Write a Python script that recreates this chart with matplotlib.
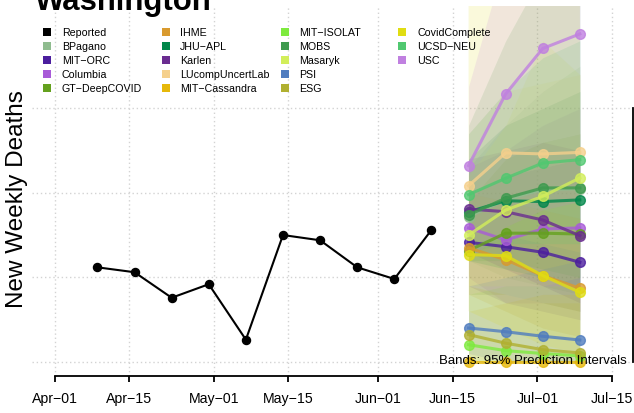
import matplotlib
matplotlib.use("Agg")
import matplotlib.pyplot as plt
import matplotlib.dates as mdates
import numpy as np
import pandas as pd
from matplotlib.patches import Rectangle

plt.rcParams['font.family'] = ['Liberation Sans', 'DejaVu Sans']

# ---------------- data ----------------
title = "Washington"
y_label = "New Weekly Deaths"
band_note = "Bands: 95% Prediction Intervals"

tick_dates = ["2020-04-01", "2020-04-15", "2020-05-01", "2020-05-15",
              "2020-06-01", "2020-06-15", "2020-07-01", "2020-07-15"]
tick_labels = ["Apr\u221201", "Apr\u221215", "May\u221201", "May\u221215",
               "Jun\u221201", "Jun\u221215", "Jul\u221201", "Jul\u221215"]

reported_dates = ["2020-04-09", "2020-04-16", "2020-04-23", "2020-04-30", "2020-05-07",
                  "2020-05-14", "2020-05-21", "2020-05-28", "2020-06-04", "2020-06-11"]
reported_values = [56.0, 53.1, 38.0, 46.0, 13.2, 75.1, 72.0, 56.0, 49.1, 78.1]

forecast_dates = ["2020-06-18", "2020-06-25", "2020-07-02", "2020-07-09"]

model_names = ["BPagano", "MIT\u2212ORC", "Columbia", "GT\u2212DeepCOVID", "IHME",
               "JHU\u2212APL", "Karlen", "LUcompUncertLab", "MIT\u2212Cassandra",
               "MIT\u2212ISOLAT", "MOBS", "Masaryk", "PSI", "ESG",
               "CovidComplete", "UCSD\u2212NEU", "USC"]
model_colors = ["#8FBC8F", "#4B1E9E", "#A85BD8", "#64A11E", "#D99A2E",
                "#00874A", "#6A2C90", "#F5D08C", "#E6B80A",
                "#7EEA3E", "#3E9A4E", "#D2EE5A", "#4F7CBF", "#B0B030",
                "#E0DD12", "#50C870", "#C080E0"]

# point forecasts (medians)
bpagano_mid = [86.0, 96.0, 102.0, 102.5]
mit_orc_mid = [70.8, 68.2, 64.9, 59.0]
columbia_mid = [79.3, 72.2, 78.7, 79.3]
gt_deepcovid_mid = [65.9, 76.2, 76.2, 75.7]
ihme_mid = [67.5, 60.5, 51.1, 43.6]
jhu_apl_mid = [88.8, 95.4, 94.9, 95.9]
karlen_mid = [90.5, 88.9, 84.0, 74.7]
lucomp_mid = [104.3, 123.7, 123.1, 124.0]
mit_cassandra_mid = [0.2, 0.2, 0.2, 0.2]
mit_isolat_mid = [10.2, 6.7, 5.0, 3.6]
mobs_mid = [87.0, 96.9, 103.0, 103.0]
masaryk_mid = [75.1, 89.9, 98.0, 108.9]
psi_mid = [20.1, 17.9, 15.2, 13.0]
esg_mid = [16.2, 11.1, 7.3, 5.3]
covidcomplete_mid = [63.5, 62.9, 51.1, 41.2]
ucsd_neu_mid = [99.0, 108.7, 117.7, 119.7]
usc_mid = [116.2, 158.6, 185.5, 194.1]

# 95% prediction interval bounds
bpagano_lo = [60, 50, 45, 40];   bpagano_hi = [115, 140, 160, 175]
mit_orc_lo = [45, 35, 30, 25];   mit_orc_hi = [100, 110, 115, 120]
columbia_lo = [50, 35, 35, 30];  columbia_hi = [115, 125, 140, 150]
gt_deepcovid_lo = [40, 40, 35, 30]; gt_deepcovid_hi = [95, 120, 130, 135]
ihme_lo = [40, 30, 20, 15];      ihme_hi = [100, 95, 90, 85]
jhu_apl_lo = [60, 55, 50, 45];   jhu_apl_hi = [120, 140, 150, 160]
karlen_lo = [65, 55, 45, 35];    karlen_hi = [120, 125, 130, 125]
lucomp_lo = [70, 75, 70, 65];    lucomp_hi = [135, 160, 165, 170]
mit_cassandra_lo = [0, 0, 0, 0]; mit_cassandra_hi = [30, 35, 40, 40]
mit_isolat_lo = [0, 0, 0, 0];    mit_isolat_hi = [40, 45, 45, 45]
mobs_lo = [60, 60, 55, 50];      mobs_hi = [140, 190, 230, 250]
masaryk_lo = [45, 45, 45, 50];   masaryk_hi = [110, 140, 190, 170]
psi_lo = [5, 0, 0, 0];           psi_hi = [45, 50, 55, 60]
esg_lo = [0, 0, 0, 0];           esg_hi = [45, 40, 35, 35]
covidcomplete_lo = [30, 20, 10, 5]; covidcomplete_hi = [240, 260, 280, 290]
ucsd_neu_lo = [65, 70, 70, 70];  ucsd_neu_hi = [135, 160, 180, 190]
usc_lo = [60, 80, 90, 95];       usc_hi = [163, 240, 280, 300]

mids = [bpagano_mid, mit_orc_mid, columbia_mid, gt_deepcovid_mid, ihme_mid,
        jhu_apl_mid, karlen_mid, lucomp_mid, mit_cassandra_mid, mit_isolat_mid,
        mobs_mid, masaryk_mid, psi_mid, esg_mid, covidcomplete_mid, ucsd_neu_mid, usc_mid]
los = [bpagano_lo, mit_orc_lo, columbia_lo, gt_deepcovid_lo, ihme_lo,
       jhu_apl_lo, karlen_lo, lucomp_lo, mit_cassandra_lo, mit_isolat_lo,
       mobs_lo, masaryk_lo, psi_lo, esg_lo, covidcomplete_lo, ucsd_neu_lo, usc_lo]
his = [bpagano_hi, mit_orc_hi, columbia_hi, gt_deepcovid_hi, ihme_hi,
       jhu_apl_hi, karlen_hi, lucomp_hi, mit_cassandra_hi, mit_isolat_hi,
       mobs_hi, masaryk_hi, psi_hi, esg_hi, covidcomplete_hi, ucsd_neu_hi, usc_hi]

y_grid = [0, 50, 100, 150]

# ---------------- figure ----------------
W, H = 634, 414
fig = plt.figure(figsize=(W / 100, H / 100), dpi=100)
def fx(px):
    return px / W
def fy(py):
    return 1 - py / H

ax = fig.add_axes([fx(32), fy(377), fx(632.7) - fx(32), fy(6.7) - fy(377)])

t_dates = pd.to_datetime(tick_dates)
r_dates = pd.to_datetime(reported_dates)
f_dates = pd.to_datetime(forecast_dates)
d0 = mdates.date2num(t_dates[0])

ax.set_xlim(d0 - 4.34, d0 + 108.96)
ax.set_ylim(-8.3, 210.8)

# grid
for t in t_dates:
    ax.axvline(t, color="#d3d3d3", lw=1.0, ls=(0, (1, 2)), zorder=0)
for g in y_grid:
    ax.axhline(g, color="#d3d3d3", lw=1.0, ls=(0, (1, 2)), zorder=0)

# bands
for lo, hi, c in zip(los, his, model_colors):
    ax.fill_between(f_dates, lo, hi, color=c, alpha=0.15, lw=0, zorder=1)

# reported
ax.plot(r_dates, reported_values, color="black", lw=1.5, marker="o", ms=5.8, zorder=5)

# forecasts
for m, c in zip(mids, model_colors):
    ax.plot(f_dates, m, color=c, lw=2.2, marker="o", ms=7, alpha=0.8, zorder=4)

# axes styling
for s in ["top", "left"]:
    ax.spines[s].set_visible(False)
ax.spines["bottom"].set_bounds(mdates.date2num(t_dates[0]), mdates.date2num(t_dates[-1]))
ax.spines["bottom"].set_linewidth(1.3)
ax.spines["right"].set_bounds(y_grid[0], y_grid[-1])
ax.spines["right"].set_linewidth(1.3)
ax.set_yticks([])
ax.set_xticks(t_dates)
ax.set_xticklabels(tick_labels, fontsize=10.2)
ax.tick_params(axis="x", direction="out", length=4, width=1.3, pad=6.5)

# labels
fig.text(fx(35), fy(10), title, fontsize=22.4, fontweight="bold", ha="left", va="baseline")
fig.text(fx(17), fy(199), y_label, fontsize=17.5, rotation=90, ha="center", va="center")
fig.text(fx(627), fy(361), band_note, fontsize=9.5, ha="right", va="center")

# legend
leg_names = ["Reported"] + model_names
leg_colors = ["#000000"] + model_colors
col_sq = [46.5, 165.5, 285, 402]
col_tx = [61.7, 180, 299, 417.3]
row_y = [33.3, 47.3, 61.3, 75.3, 89.3]
for i, (n, c) in enumerate(zip(leg_names, leg_colors)):
    col, row = divmod(i, 5)
    sx, sy = col_sq[col], row_y[row]
    fig.patches.append(Rectangle((fx(sx - 4), fy(sy + 4)), fx(8), 8 / H,
                                 transform=fig.transFigure, facecolor=c, edgecolor="none"))
    fig.text(fx(col_tx[col]), fy(sy), n, fontsize=7.7, ha="left", va="center")

fig.savefig("out.png", dpi=100)
